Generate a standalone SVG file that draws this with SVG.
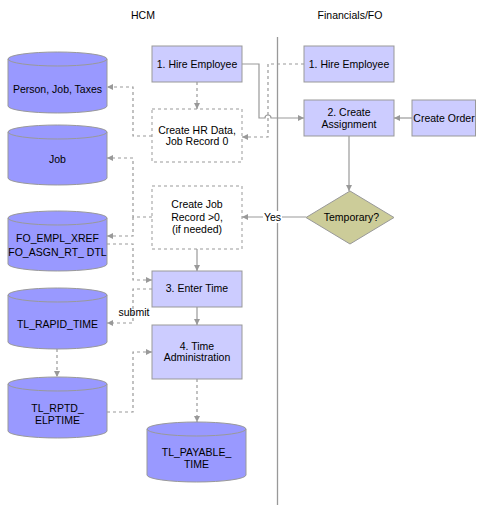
<svg xmlns="http://www.w3.org/2000/svg" width="477" height="508" viewBox="0 0 477 508">
<style>
text{font-family:"Liberation Sans",Arial,sans-serif;font-size:10.5px;fill:#000;text-anchor:middle}
.box{fill:#CCCCFF;stroke:#999;stroke-width:1}
.dbox{fill:#fff;stroke:#999;stroke-width:1;stroke-dasharray:3,3}
.cyl{fill:#9999FF;stroke:#999;stroke-width:1}
.cylt{fill:none;stroke:#999;stroke-width:1}
.ln{fill:none;stroke:#999;stroke-width:1.2}
.dl{fill:none;stroke:#999;stroke-width:1.2;stroke-dasharray:3,3}
.ah{fill:#999}
</style>
<defs>
<marker id="arr" markerUnits="userSpaceOnUse" markerWidth="7" markerHeight="7" refX="6" refY="3.5" orient="auto"><path class="ah" d="M0,0.5 L6,3.5 L0,6.5 z"/></marker>
</defs>
<g id="titles">
<text x="143" y="19">HCM</text>
<text x="350" y="19">Financials/FO</text>
</g>
<line id="divider" x1="277.5" y1="37" x2="277.5" y2="505" stroke="#999" stroke-width="1.3"/>
<g id="connectors">
<path class="ln" d="M242,64 H259 V118 H265 A3,3 0 0 1 271,118 H304" marker-end="url(#arr)"/>
<path class="dl" d="M304,64 H268 V137 H242" marker-end="url(#arr)"/>
<path class="dl" d="M197,82 V109" marker-end="url(#arr)"/>
<path class="dl" d="M152,136 H133 V87 H107" marker-end="url(#arr)"/>
<path class="ln" d="M412,118 H394" marker-end="url(#arr)"/>
<path class="ln" d="M349,136 V191" marker-end="url(#arr)"/>
<path class="ln" d="M306,217 H242" marker-end="url(#arr)"/>
<path class="dl" d="M152,217 H133 V158 H107" marker-end="url(#arr)"/>
<path class="dl" d="M133,217 V236 H107" marker-end="url(#arr)"/>
<path class="dl" d="M107,244 H133 V280 H152" marker-end="url(#arr)"/>
<path class="ln" d="M197,249 V271" marker-end="url(#arr)"/>
<path class="dl" d="M152,289 H133 V323 H107" marker-end="url(#arr)"/>
<path class="ln" d="M197,307 V325" marker-end="url(#arr)"/>
<path class="dl" d="M57,349 V377" marker-end="url(#arr)"/>
<path class="dl" d="M107,412 H133 V352 H152" marker-end="url(#arr)"/>
<path class="dl" d="M197,379 V422" marker-end="url(#arr)"/>
<rect x="263" y="211" width="19" height="12" fill="#fff"/>
<text x="272.5" y="221">Yes</text>
<text x="134" y="316">submit</text>
</g>
<g id="hcm-hire">
<rect class="box" x="152" y="46" width="90" height="36"/>
<text x="197" y="68">1. Hire Employee</text>
</g>
<g id="create-hr-data">
<rect class="dbox" x="152" y="109" width="90" height="53"/>
<text x="197" y="134">Create HR Data,</text>
<text x="197" y="145">Job Record 0</text>
</g>
<g id="create-job-record">
<rect class="dbox" x="152" y="186" width="90" height="63"/>
<text x="197" y="208">Create Job</text>
<text x="197" y="220.5">Record &gt;0,</text>
<text x="197" y="233">(if needed)</text>
</g>
<g id="enter-time">
<rect class="box" x="152" y="271" width="90" height="36"/>
<text x="197" y="292">3. Enter Time</text>
</g>
<g id="time-admin">
<rect class="box" x="152" y="325" width="90" height="54"/>
<text x="197" y="349.5">4. Time</text>
<text x="197" y="361">Administration</text>
</g>
<g id="fin-hire">
<rect class="box" x="304" y="46" width="90" height="36"/>
<text x="349" y="68">1. Hire Employee</text>
</g>
<g id="create-assignment">
<rect class="box" x="304" y="100" width="90" height="36"/>
<text x="349" y="115.5">2. Create</text>
<text x="349" y="128">Assignment</text>
</g>
<g id="create-order">
<rect class="box" x="412" y="100" width="63.5" height="36"/>
<text x="444" y="122">Create Order</text>
</g>
<g id="temporary">
<polygon points="350,191 394,217.5 350,244 306,217.5" fill="#CCCC99" stroke="#999" stroke-width="1"/>
<text x="351.5" y="220.5">Temporary?</text>
</g>
<g id="db-person">
<path class="cyl" d="M8,59 A49.5,7 0 0 1 107,59 V106 A49.5,7 0 0 1 8,106 Z"/>
<path class="cylt" d="M8,59 A49.5,7 0 0 0 107,59"/>
<text x="57.5" y="93">Person, Job, Taxes</text>
</g>
<g id="db-job">
<path class="cyl" d="M8,132 A49.5,7 0 0 1 107,132 V178 A49.5,7 0 0 1 8,178 Z"/>
<path class="cylt" d="M8,132 A49.5,7 0 0 0 107,132"/>
<text x="57.5" y="163">Job</text>
</g>
<g id="db-fo">
<path class="cyl" d="M8,218 A49.5,7 0 0 1 107,218 V264 A49.5,7 0 0 1 8,264 Z"/>
<path class="cylt" d="M8,218 A49.5,7 0 0 0 107,218"/>
<text x="57.5" y="242">FO_EMPL_XREF</text>
<text x="57.5" y="255.5">FO_ASGN_RT_ DTL</text>
</g>
<g id="db-rapid">
<path class="cyl" d="M8,295 A49.5,7 0 0 1 107,295 V342 A49.5,7 0 0 1 8,342 Z"/>
<path class="cylt" d="M8,295 A49.5,7 0 0 0 107,295"/>
<text x="57.5" y="328">TL_RAPID_TIME</text>
</g>
<g id="db-rptd">
<path class="cyl" d="M8,384 A49.5,7 0 0 1 107,384 V431 A49.5,7 0 0 1 8,431 Z"/>
<path class="cylt" d="M8,384 A49.5,7 0 0 0 107,384"/>
<text x="57.5" y="411.5">TL_RPTD_</text>
<text x="57.5" y="423.5">ELPTIME</text>
</g>
<g id="db-payable">
<path class="cyl" d="M147,429 A49.5,7 0 0 1 246,429 V475 A49.5,7 0 0 1 147,475 Z"/>
<path class="cylt" d="M147,429 A49.5,7 0 0 0 246,429"/>
<text x="196.5" y="455.5">TL_PAYABLE_</text>
<text x="196.5" y="467.5">TIME</text>
</g>
</svg>
